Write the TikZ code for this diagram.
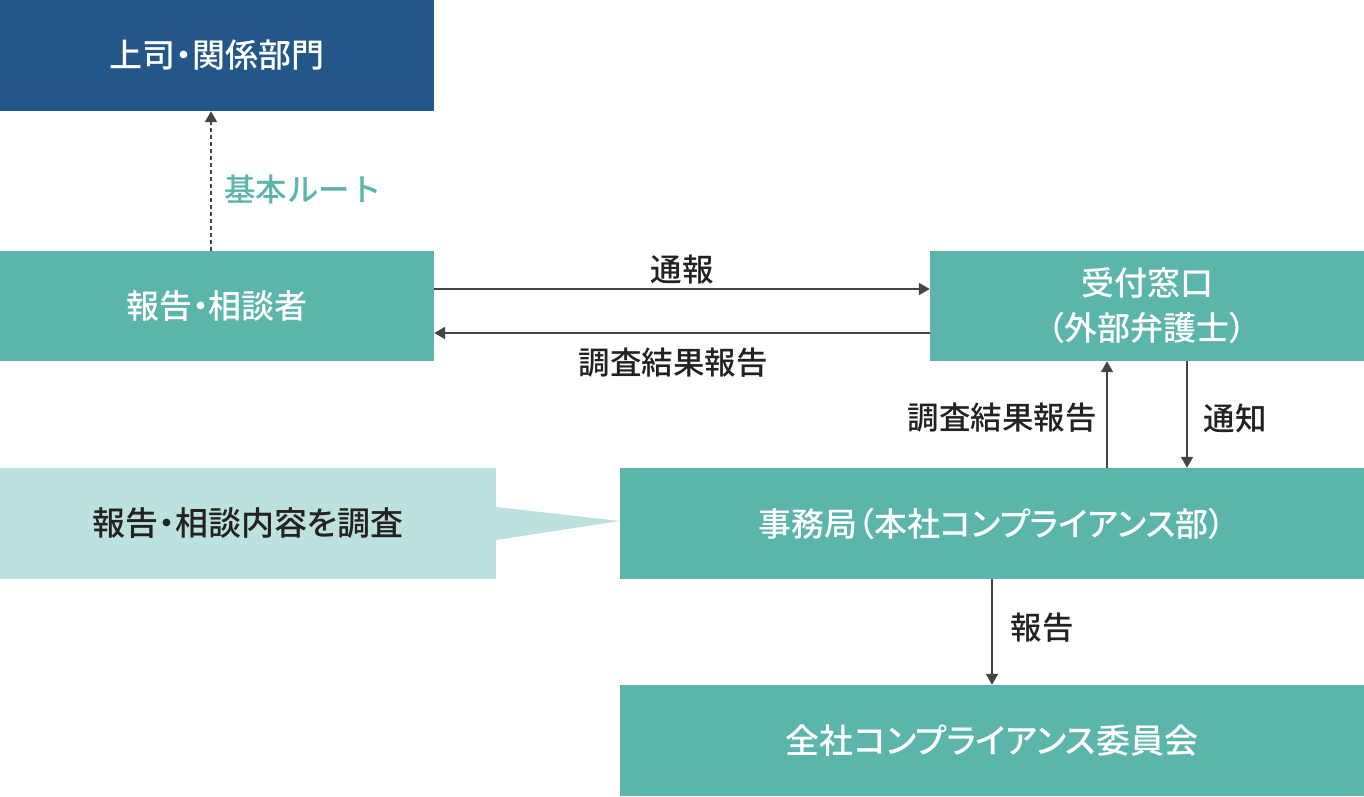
\documentclass[tikz,border=0pt]{standalone}
\usepackage{fontspec}
\setmainfont{Noto Sans CJK JP Medium}[RawFeature=+palt]
\newfontfamily\plainjp{Noto Sans CJK JP Medium}
\usetikzlibrary{arrows.meta}
\definecolor{navy}{HTML}{235789}
\definecolor{teal1}{HTML}{5BB5AA}
\definecolor{lightteal}{HTML}{BDE1DD}
\definecolor{arrowgray}{HTML}{444444}
\definecolor{txtdark}{HTML}{222222}
\tikzset{
  box/.style={rectangle, inner sep=0pt, align=center, text=white,
    font=\fontsize{33}{45}\selectfont},
  navybox/.style={box, fill=navy},
  tealbox/.style={box, fill=teal1},
  lightbox/.style={box, fill=lightteal, text=txtdark},
  arr/.style={draw=arrowgray, line width=2pt, -{Triangle[length=11pt,width=12pt]}},
  dasharr/.style={arr, dash pattern=on 4pt off 3pt},
  lbl/.style={inner sep=0pt, text=txtdark, font=\fontsize{31.5}{36}\selectfont},
}
\begin{document}
\begin{tikzpicture}[x=1pt,y=-1pt]
\useasboundingbox (0,0) rectangle (1364,797);
\node[navybox, minimum width=434pt, minimum height=111pt] (A) at (217,55.5) {上司・関係部門};
\node[tealbox, minimum width=434pt, minimum height=110pt] (B) at (217,306) {報告・相談者};
\node[tealbox, minimum width=434pt, minimum height=110pt] (C) at (1147,306) {受付窓口\\（外部弁護士）};
\node[lightbox, minimum width=496pt, minimum height=111pt] (D) at (248,523.5) {報告・相談内容を調査};
\node[tealbox, minimum width=744pt, minimum height=111pt] (E) at (992,523.5) {事務局（本社コンプライアンス部）};
\node[tealbox, minimum width=744pt, minimum height=111pt, font=\fontsize{34}{45}\selectfont] (F) at (992,740.5) {全社コンプライアンス委員会};
% wedge
\fill[lightteal] ([yshift=16.5pt]D.east) -- ([yshift=-16.5pt]D.east) -- ([yshift=2.5pt]E.west) -- cycle;
% connectors
\draw[dasharr] ([xshift=-6pt]B.north) -- ([xshift=-6pt]A.south);
\draw[arr] ([yshift=17pt]B.east) -- ([yshift=17pt]C.west);
\draw[arr] ([yshift=-27pt]C.west) -- ([yshift=-27pt]B.east);
\draw[arr] ([xshift=-40pt]C.south |- E.north) -- ([xshift=-40pt]C.south);
\draw[arr] ([xshift=40pt]C.south) -- ([xshift=40pt]C.south |- E.north);
\draw[arr] (E.south) -- (F.north);
% labels
\node[lbl, text=teal1, font=\plainjp\fontsize{31.5}{36}\selectfont] (l1) at (303,190) {基本ルート};
\node[lbl] (l2) at (682,270) {通報};
\node[lbl] (l3) at (673,363) {調査結果報告};
\node[lbl] (l4) at (1002,418) {調査結果報告};
\node[lbl] (l5) at (1235,418) {通知};
\node[lbl] (l6) at (1042,628) {報告};
\end{tikzpicture}
\end{document}
